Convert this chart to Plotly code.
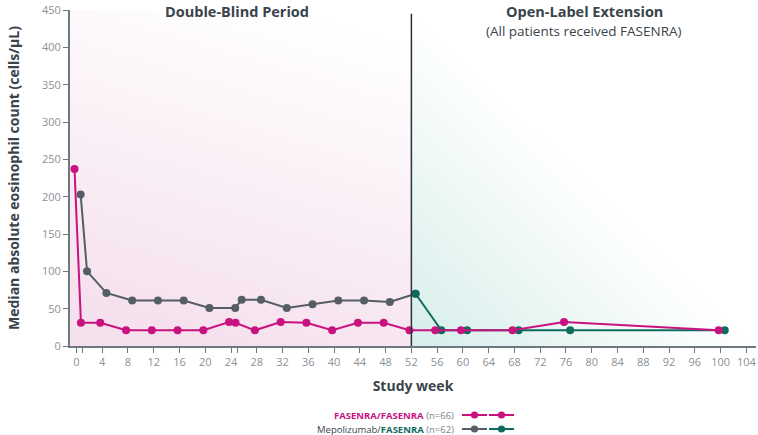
import base64
import plotly.graph_objects as go

# ---------------- data ----------------
weeks_fas = [0, 1, 4, 8, 12, 16, 20, 24, 25, 28, 32, 36, 40, 44, 48, 52, 56, 60, 68, 76, 100]
vals_fas = [237, 31, 31, 21, 21, 21, 21, 32, 31, 21, 32, 31, 21, 31, 31, 21, 21, 21, 21, 32, 21]

weeks_mepo = [0, 1, 4, 8, 12, 16, 20, 24, 25, 28, 32, 36, 40, 44, 48, 52]
vals_mepo = [203, 100, 71, 61, 61, 61, 51, 51, 62, 62, 51, 56, 61, 61, 59, 70]

weeks_ole = [52, 56, 60, 68, 76, 100]
vals_ole = [70, 21, 21, 21, 21, 21]

tick_weeks = [0, 1, 4, 8, 12, 16, 20, 24, 25, 28, 32, 36, 40, 44, 48, 52, 56, 60, 64, 68,
              72, 76, 80, 84, 88, 92, 96, 100, 104]
unlabeled_ticks = [1, 25]
y_ticks = [0, 50, 100, 150, 200, 250, 300, 350, 400, 450]

# ---------------- style ----------------
MAGENTA = "#c8127f"
GRAY = "#555e66"
TEAL = "#0f6b5f"
DARK = "#3a444c"
TICKCOL = "#8a9197"
AXCOL = "#6f787e"
FONT = "Open Sans"

DODGE_FAS = -0.3
DODGE_MEPO = 0.65

W, H = 758, 435
ML, MR, MT, MB = 70, 2, 10, 89
XR = [-1, 105.5]
YR = [0, 450]


def svg_uri(stops, x1, y1, x2, y2):
    st = "".join(f'<stop offset="{o}" stop-color="{c}"/>' for o, c in stops)
    svg = (f'<svg xmlns="http://www.w3.org/2000/svg" width="100" height="100" '
           f'preserveAspectRatio="none" viewBox="0 0 100 100">'
           f'<defs><linearGradient id="g" x1="{x1}" y1="{y1}" x2="{x2}" y2="{y2}">{st}</linearGradient></defs>'
           f'<rect x="0" y="0" width="100" height="100" fill="url(#g)"/></svg>')
    return "data:image/svg+xml;base64," + base64.b64encode(svg.encode()).decode()


fig = go.Figure()

fig.add_trace(go.Scatter(
    x=[w + DODGE_MEPO for w in weeks_mepo], y=vals_mepo, mode="lines+markers",
    line=dict(color=GRAY, width=2), marker=dict(color=GRAY, size=8),
    hoverinfo="skip", showlegend=False))
fig.add_trace(go.Scatter(
    x=[w + DODGE_MEPO for w in weeks_ole], y=vals_ole, mode="lines+markers",
    line=dict(color=TEAL, width=2), marker=dict(color=TEAL, size=8),
    hoverinfo="skip", showlegend=False))
fig.add_trace(go.Scatter(
    x=[w + DODGE_FAS for w in weeks_fas], y=vals_fas, mode="lines+markers",
    line=dict(color=MAGENTA, width=2), marker=dict(color=MAGENTA, size=8),
    hoverinfo="skip", showlegend=False))

# background gradients
images = [
    dict(source=svg_uri([(0, "#f5e0ed"), (1, "#ffffff")], 0.35, 1, 0.65, 0),
         xref="x", yref="y", x=XR[0], y=YR[1], sizex=52 - XR[0], sizey=YR[1],
         sizing="stretch", layer="below", xanchor="left", yanchor="top"),
    dict(source=svg_uri([(0, "#d6eeea"), (0.5, "#ffffff"), (1, "#ffffff")], 0, 1, 1, 0),
         xref="x", yref="y", x=52, y=YR[1], sizex=XR[1] - 52, sizey=YR[1],
         sizing="stretch", layer="below", xanchor="left", yanchor="top"),
]

shapes = [dict(type="line", xref="x", yref="y", x0=52, x1=52, y0=0, y1=445,
               line=dict(color="#2b3338", width=1.5), layer="above")]

PW = W - ML - MR
PH = H - MT - MB


def px(xp):
    return (xp - ML) / PW


def py(yp):
    return (H - MB - yp) / PH


def dx(week):
    return (week - XR[0]) / (XR[1] - XR[0])


# legend samples
leg_rows = [(415, MAGENTA, MAGENTA), (429, GRAY, TEAL)]
for yp, c1, c2 in leg_rows:
    for (xa, xb, c) in [(462, 487, c1), (489, 514, c2)]:
        shapes.append(dict(type="line", xref="paper", yref="paper",
                           x0=px(xa), x1=px(xb), y0=py(yp), y1=py(yp),
                           line=dict(color=c, width=2)))
        xm = (xa + xb) / 2
        r = 3.6
        shapes.append(dict(type="circle", xref="paper", yref="paper",
                           x0=px(xm - r), x1=px(xm + r), y0=py(yp - r), y1=py(yp + r),
                           fillcolor=c, line=dict(color=c, width=0)))

annotations = [
    dict(text="<b>Double-Blind Period</b>", x=dx(25), y=py(12), xref="paper", yref="paper",
         xanchor="center", yanchor="middle",
         showarrow=False, font=dict(size=14.5, color=DARK, family=FONT)),
    dict(text="<b>Open-Label Extension</b>", x=dx(78.8), y=py(12), xref="paper", yref="paper",
         xanchor="center", yanchor="middle",
         showarrow=False, font=dict(size=14.5, color=DARK, family=FONT)),
    dict(text="(All patients received FASENRA)", x=dx(78.8), y=py(31), xref="paper", yref="paper",
         xanchor="center", yanchor="middle",
         showarrow=False, font=dict(size=13.5, color=DARK, family=FONT)),
    dict(text=f'<b><span style="color:{MAGENTA}">FASENRA/FASENRA</span></b> '
              f'<span style="color:#7d858b">(n=66)</span>',
         x=px(456), y=py(415), xref="paper", yref="paper", xanchor="right", yanchor="middle",
         showarrow=False, font=dict(size=9.5, family=FONT)),
    dict(text=f'<span style="color:{DARK}">Mepolizumab/</span><b><span style="color:{TEAL}">FASENRA</span></b> '
              f'<span style="color:#7d858b">(n=62)</span>',
         x=px(456), y=py(429), xref="paper", yref="paper", xanchor="right", yanchor="middle",
         showarrow=False, font=dict(size=9.5, family=FONT)),
]

fig.update_layout(
    width=W, height=H,
    margin=dict(l=ML, r=MR, t=MT, b=MB),
    paper_bgcolor="white", plot_bgcolor="rgba(0,0,0,0)",
    font=dict(family=FONT, color=TICKCOL),
    images=images, shapes=shapes, annotations=annotations,
    showlegend=False,
    xaxis=dict(range=XR, tickmode="array", tickvals=tick_weeks,
               ticktext=["" if t in unlabeled_ticks else str(t) for t in tick_weeks],
               ticks="outside", ticklen=5, tickcolor=AXCOL, tickwidth=1,
               showline=True, linecolor=AXCOL, linewidth=2, showgrid=False, zeroline=False,
               tickfont=dict(size=11, color=TICKCOL, family=FONT),
               title=dict(text="<b>Study week</b>", font=dict(size=14, color=DARK, family=FONT),
                          standoff=13)),
    yaxis=dict(range=YR, tickmode="array", tickvals=y_ticks,
               ticks="outside", ticklen=5, tickcolor=AXCOL, tickwidth=1,
               showline=True, linecolor=AXCOL, linewidth=2, showgrid=False, zeroline=False,
               tickfont=dict(size=11, color=TICKCOL, family=FONT),
               title=dict(text="<b>Median absolute eosinophil count (cells/µL)</b>",
                          font=dict(size=14, color=DARK, family=FONT), standoff=19)),
)

fig.write_html("out.html", config={"displayModeBar": False},
               post_script="document.body.style.margin='0px';")
